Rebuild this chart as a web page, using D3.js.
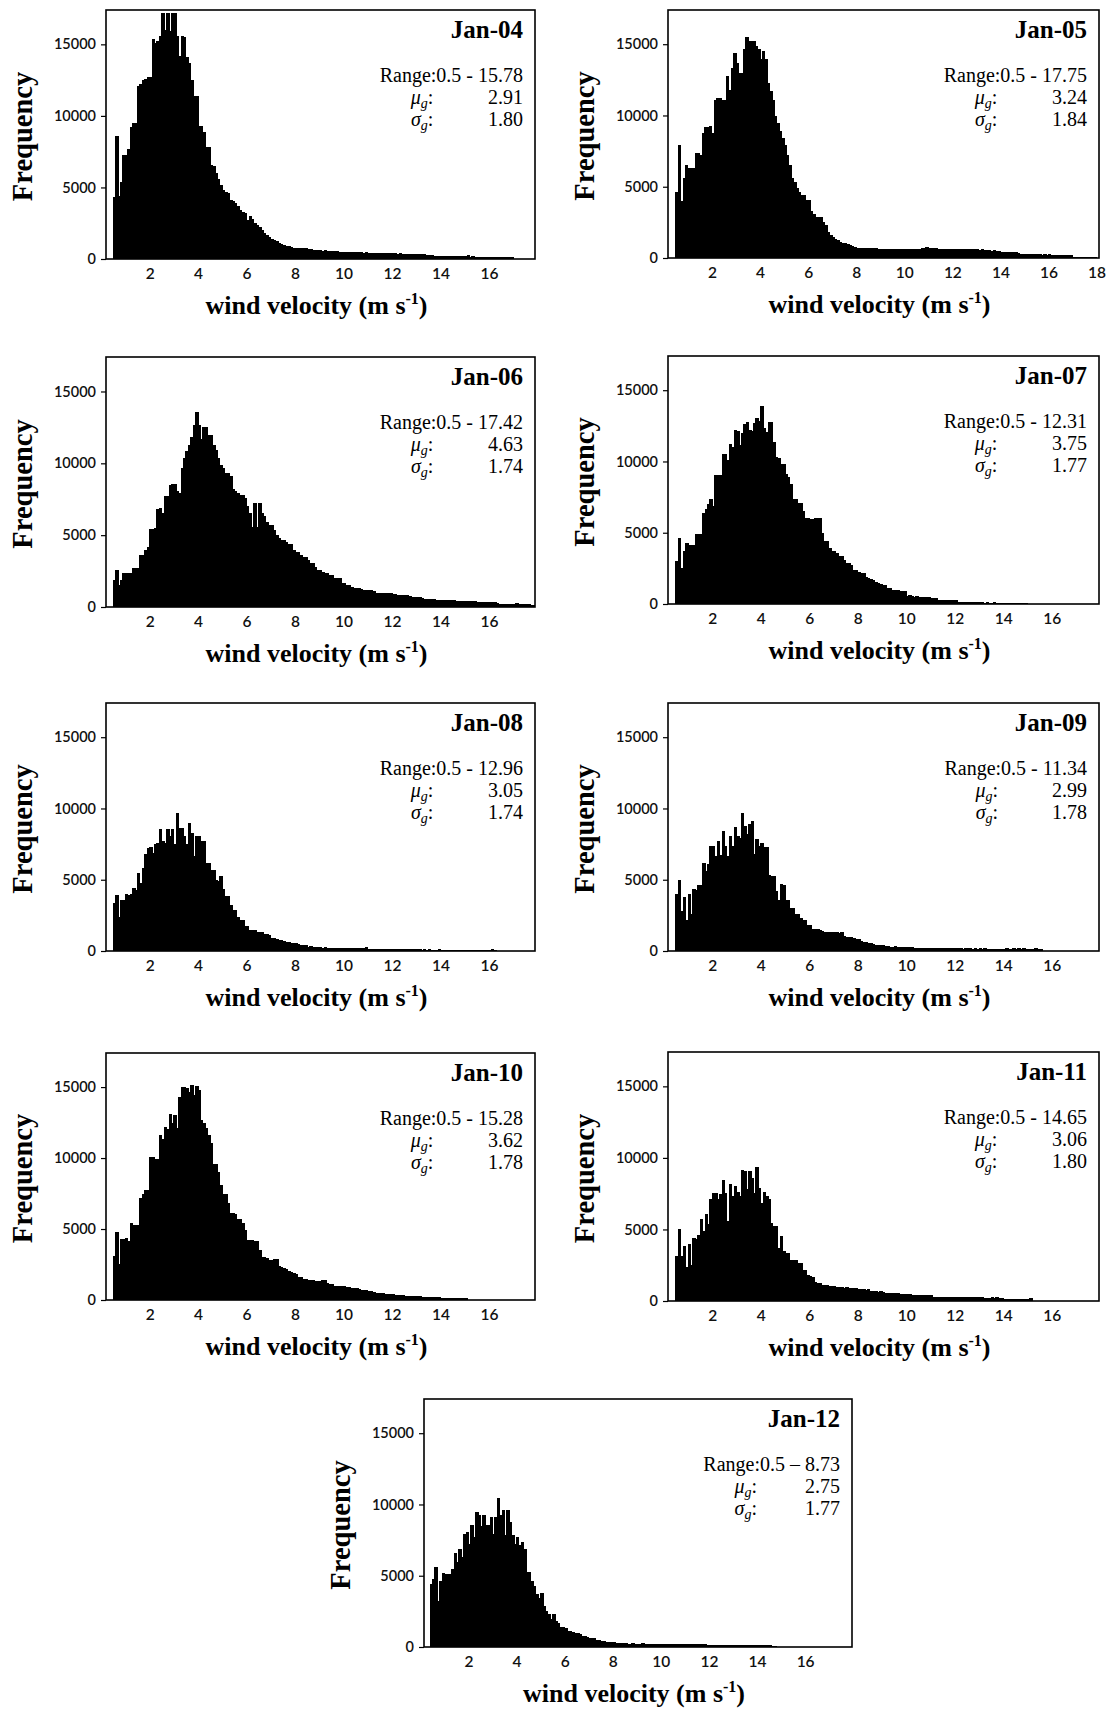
<!DOCTYPE html>
<html><head><meta charset="utf-8">
<script src="https://cdn.jsdelivr.net/npm/d3@7"></script>
<style>body{margin:0;background:#fff;} svg{display:block;}</style>
</head><body>
<svg id="chart" width="1113" height="1711"></svg>
<script>
const BIN_WIDTH = 0.1;
const panelNames = ["Jan-04","Jan-05","Jan-06","Jan-07","Jan-08","Jan-09","Jan-10","Jan-11","Jan-12"];
const rangeLabels = ["0.5 - 15.78","0.5 - 17.75","0.5 - 17.42","0.5 - 12.31","0.5 - 12.96","0.5 - 11.34","0.5 - 15.28","0.5 - 14.65","0.5 \u2013 8.73"];
const muValues = ["2.91","3.24","4.63","3.75","3.05","2.99","3.62","3.06","2.75"];
const sigmaValues = ["1.80","1.84","1.74","1.77","1.74","1.78","1.78","1.80","1.77"];
const binStarts = [0.5,0.5,0.5,0.5,0.5,0.5,0.5,0.5,0.4];
const yTicks = [0,5000,10000,15000];
const xTicks = [2,4,6,8,10,12,14,16];
const xTicksJan05 = [2,4,6,8,10,12,14,16,18];

const jan04 = [4300,8600,4400,5400,7300,7300,7700,9200,9500,9500,
12100,12200,12500,12600,12700,12700,15400,15100,15200,15600,
17200,16000,17200,15900,17200,17200,15600,14200,15600,15500,
14100,13700,12500,11400,11400,9300,9300,8900,7800,7800,
6600,6500,6000,5600,5200,4850,4700,4600,4150,4050,
3900,3700,3450,3300,3200,2750,3000,2800,2550,2350,
2250,2050,1850,1700,1550,1400,1300,1250,1100,1050,
950,900,880,870,800,780,770,760,740,760,
700,700,640,620,600,610,590,600,560,540,
550,530,540,510,500,490,480,490,470,480,
470,460,470,450,460,440,450,430,420,430,
420,410,420,420,410,400,420,380,410,380,
370,360,380,350,360,340,350,330,320,300,
290,260,240,230,240,220,230,220,210,220,
200,210,200,190,200,180,250,170,180,170,
160,170,150,160,140,150,140,130,140,130,
140,120,130,120,110];
const jan05 = [4600,7900,4000,5600,6500,6300,6300,6300,7400,7400,
7250,8800,9200,9200,9250,8800,11100,11250,11250,11100,
11100,12800,11800,13350,14400,13700,13000,13000,14650,15500,
15250,15250,15200,14900,14650,13950,14550,13950,12300,11700,
11100,9950,9500,8900,8400,7950,7250,6550,5600,5350,
4900,4650,4400,4400,4100,4050,3300,3100,2900,2900,
2900,2550,2350,1850,1600,1450,1300,1250,1130,1080,
1050,980,940,820,780,720,700,710,690,700,
680,700,690,670,660,650,660,640,650,660,
640,650,630,650,640,650,630,650,640,650,
660,650,680,730,740,720,730,710,690,660,
650,640,650,660,640,650,640,660,650,630,
640,620,610,620,600,610,590,600,560,540,
550,520,540,510,500,450,430,420,410,420,
400,400,380,270,260,270,260,250,260,250,
260,250,240,250,240,250,240,230,240,230,
240,230,220,230,220,70,60,70,60,60,
50,60,50,40,40,30];
const jan06 = [1870,2600,1500,1870,2400,2400,2400,2400,2730,2730,
2730,3600,3600,3950,4200,5450,5450,5500,6800,6900,
6550,7700,7750,8500,8550,8550,8050,7950,9700,10400,
10850,11300,11800,12700,13550,12700,11700,12550,12550,12000,
12000,11300,10950,10400,9850,9700,9350,9350,9100,8200,
8050,7950,7800,7800,7600,7000,6550,5600,7250,5600,
7250,6550,6300,5950,5700,5700,5350,5000,4800,4650,
4650,4550,4400,4400,3950,3850,3850,3600,3500,3500,
3300,3050,3050,2800,2570,2570,2450,2350,2350,2200,
2200,2000,2050,2000,1650,1650,1500,1500,1400,1350,
1300,1300,1250,1200,1200,1150,1150,1100,1000,980,
990,970,980,960,950,930,920,850,830,840,
810,820,790,720,710,700,680,600,590,580,
570,580,560,520,510,520,500,510,490,500,
470,440,420,430,410,420,400,410,390,400,
380,360,350,340,350,330,340,320,300,240,
230,240,220,230,220,240,300,220,210,200,
190,180,170,160];
const jan07 = [3040,4630,2500,3700,4300,4150,4150,4150,4900,4900,
4900,6400,6650,7000,7350,6900,9050,9050,9050,10550,
10550,10100,11200,11050,12200,12150,11150,12000,12600,12800,
12200,12150,12700,13050,12850,13900,12350,12100,12750,12750,
11400,10300,10250,9850,9850,9150,8900,8400,7400,7400,
7100,7100,6500,6000,6000,5950,5950,6000,6000,6000,
5000,4400,4400,3900,3700,3700,3550,3350,3350,3100,
2900,2900,2750,2400,2400,2250,2150,2150,1900,1800,
1750,1700,1550,1450,1420,1300,1300,1140,1140,1000,
1000,980,900,900,880,590,600,560,520,530,
520,510,520,500,490,430,440,420,280,290,
280,270,280,270,260,270,130,120,130,120,
120,110,120,110,120,110,110,100,110,100,
100,110,100,100,90,100,90,100,90,90,
90,80,90,80,80];
const jan08 = [3350,3900,2400,3600,3600,4000,3900,4000,4400,4300,
5500,4800,5850,6800,7250,7300,6900,7500,7600,8550,
7700,7600,8550,8050,8550,7500,9700,8650,8650,8050,
7500,9000,8300,6700,8050,8100,7700,7700,6200,6200,
5700,5700,5000,4900,5250,4350,3850,3850,3250,2900,
2900,2400,2200,2200,1750,1750,1500,1500,1450,1350,
1350,1300,1180,1180,1100,900,900,850,780,780,
700,610,610,580,540,540,500,420,420,400,
310,320,310,300,310,300,240,250,240,230,
240,230,240,230,240,230,240,230,220,230,
230,220,230,220,280,160,170,160,150,160,
150,160,150,140,150,120,130,120,120,110,
120,110,120,110,120,110,110,100,110,100,
110,100,100,100,110,60,100,100,90,100,
90,100,90,90,100,90,90,80,90,80,
90,80,80,70,80,70,140,60];
const jan09 = [4000,5000,2800,3800,2200,4000,2600,4350,4300,4650,
4600,6200,5600,6100,7350,7350,6650,7700,6750,8400,
7350,6650,8050,7350,8700,8050,7950,9650,8800,8200,
8900,9100,6800,7850,7350,7550,7300,7300,5350,5250,
5250,4200,3600,4700,4650,3550,3550,3000,3000,2600,
2600,2300,2200,2200,1850,1850,1550,1550,1550,1450,
1400,1350,1350,1300,1300,1300,1300,1250,1300,1050,
1000,960,960,900,820,820,700,660,640,580,
540,500,430,420,410,420,380,320,310,300,
320,280,260,270,250,260,250,270,190,200,
190,180,190,200,190,180,190,200,190,180,
190,180,190,180,190,180,190,180,170,180,
190,180,170,180,170,180,170,180,170,160,
170,160,170,140,150,140,200,140,150,200,
140,210,140,190,130,140,130,140,200,140,
120];
const jan10 = [3100,4800,2550,4300,4300,4350,4150,5450,5300,5250,
5250,7200,7450,7750,7750,10050,10050,9950,9950,11650,
11350,12200,12050,13100,12500,13000,12100,14300,15000,15000,
14900,14650,15150,14450,15100,14800,12650,12500,12150,11600,
11050,9550,9550,9000,8100,7450,7450,6850,6100,6100,
6050,5700,5700,5450,4900,4250,4250,4200,4150,4150,
3500,3050,3050,2950,2850,2850,2900,2900,2400,2300,
2250,2200,2050,2000,1900,1850,1650,1650,1500,1450,
1400,1400,1380,1350,1350,1350,1400,1400,1200,1150,
1150,1000,1000,1000,980,1000,900,900,880,830,
830,800,700,700,680,600,600,590,470,470,
460,470,450,400,400,390,350,350,340,350,
280,290,280,270,280,270,260,190,200,190,
180,190,180,190,180,140,150,140,140,130,
140,130,140,130,130,120];
const jan11 = [3150,5050,3150,3850,2350,3950,2550,4400,4300,4600,
5700,4900,6100,5350,7100,7550,7550,7100,7500,8450,
7550,5600,8150,7350,8050,7650,7350,9150,9050,7800,
9050,8600,7550,9350,7900,6850,7600,7350,7150,5450,
5250,5250,3700,4550,3500,3350,3350,2850,2850,2850,
2650,2650,2200,2200,1850,1750,1650,1300,1250,1250,
1100,1100,1100,1050,1050,1050,1000,1000,980,930,
950,930,920,930,900,810,820,810,800,810,
680,670,680,660,670,650,590,580,590,570,
580,560,470,460,470,460,470,450,400,410,
400,390,400,410,400,390,300,310,300,290,
300,310,290,280,290,280,270,280,290,280,
270,280,270,280,270,260,270,190,200,190,
260,180,260,190,180,160,170,160,150,160,
150,160,150,140,150,140,220];
const jan12 = [4450,4800,5600,3250,4650,5200,5150,5100,5100,5500,6600,
5950,6900,6300,7950,8100,7250,8550,7700,9450,9250,
8500,9250,8550,8550,9150,7950,9150,10450,9250,9600,
7850,9600,8800,7850,7250,7700,7150,7350,6900,5250,
5250,4650,4300,3700,3450,3800,2900,2550,2350,1950,
2300,1800,1700,1400,1400,1350,1100,1100,1050,950,
950,900,750,750,700,640,640,600,470,470,
450,400,350,350,340,350,280,280,270,280,
250,240,240,250,240,230,240,250,240,230,
240,230,240,200,190,200,190,180,190,200,
190,180,190,200,190,180,190,180,190,180,
190,180,190,180,150,140,150,140,150,140,
130,140,130,140,130,140,130,140,130,120,
130,120,130,120,130,120,120,110,120,110,
110,100,100];
const seriesCounts = [jan04,jan05,jan06,jan07,jan08,jan09,jan10,jan11,jan12];

// layout (pixels)
const frames = [
  {x:106,y:10,w:429,h:249,xd:[0.2,17.9]},
  {x:668,y:10,w:431,h:248,xd:[0.17,18.1]},
  {x:106,y:357,w:429,h:250,xd:[0.2,17.9]},
  {x:668,y:356,w:431,h:248,xd:[0.17,17.95]},
  {x:106,y:703,w:429,h:248,xd:[0.2,17.9]},
  {x:668,y:703,w:431,h:248,xd:[0.17,17.95]},
  {x:106,y:1053,w:429,h:247,xd:[0.2,17.9]},
  {x:668,y:1052,w:431,h:249,xd:[0.17,17.95]},
  {x:424,y:1399,w:428,h:248,xd:[0.15,17.95]}
];
const Y_MAX = 17400;
const SERIF = "'Liberation Serif','Times New Roman',serif";
const SANS = "Lato,'Noto Sans',sans-serif";

const svg = d3.select("#chart");
svg.append("rect").attr("width",1113).attr("height",1711).attr("fill","#fff");

frames.forEach((f, k) => {
  const g = svg.append("g").attr("transform", `translate(${f.x},${f.y})`);
  const xs = d3.scaleLinear().domain(f.xd).range([0, f.w]);
  const ys = d3.scaleLinear().domain([0, Y_MAX]).range([f.h, 0]);
  const clipId = "clip" + k;
  g.append("clipPath").attr("id", clipId).append("rect").attr("width", f.w).attr("height", f.h);

  const bins = seriesCounts[k].map((v, i) => ({x0: binStarts[k] + i * BIN_WIDTH, v}));
  g.append("g").attr("clip-path", `url(#${clipId})`)
    .attr("shape-rendering","crispEdges")
    .selectAll("rect").data(bins).join("rect")
    .attr("x", d => Math.floor(xs(d.x0)))
    .attr("width", d => Math.ceil(xs(d.x0 + BIN_WIDTH)) - Math.floor(xs(d.x0)))
    .attr("y", d => Math.round(ys(d.v)))
    .attr("height", d => f.h - Math.round(ys(d.v)))
    .attr("fill", "#000");

  // axes
  const yAxis = d3.axisLeft(ys).tickValues(yTicks).tickSize(5).tickPadding(5).tickFormat(d3.format("d"));
  const ya = g.append("g").call(yAxis);
  ya.select(".domain").remove();
  ya.selectAll("line").attr("stroke","#000").attr("stroke-width",1.2);
  ya.selectAll("text").attr("font-family", SANS).attr("font-size", 14.5).attr("font-weight", 600).attr("fill","#111");

  const xAxis = d3.axisBottom(xs).tickValues(k === 1 ? xTicksJan05 : xTicks).tickSize(0).tickPadding(9);
  const xa = g.append("g").attr("transform", `translate(0,${f.h})`).call(xAxis);
  xa.select(".domain").remove();
  xa.selectAll("text").attr("font-family", SANS).attr("font-size", 15.5).attr("font-weight", 600).attr("fill","#111");

  // frame
  g.append("rect").attr("width", f.w).attr("height", f.h)
    .attr("fill","none").attr("stroke","#000").attr("stroke-width",1.6);

  // y label
  g.append("text")
    .attr("transform", `translate(-74,${f.h/2 + 2}) rotate(-90)`)
    .attr("text-anchor","middle")
    .attr("font-family", SERIF).attr("font-weight","bold").attr("font-size",28.5)
    .text("Frequency");

  // x label
  const xl = g.append("text")
    .attr("x", f.w/2 - 4).attr("y", f.h + 55)
    .attr("text-anchor","middle")
    .attr("font-family", SERIF).attr("font-weight","bold").attr("font-size",26);
  xl.append("tspan").text("wind velocity  (m s");
  xl.append("tspan").attr("font-size",16).attr("dy",-10).text("-1");
  xl.append("tspan").attr("dy",10).text(")");

  // title
  const right = f.w - 12;
  g.append("text").attr("x", right).attr("y", 28)
    .attr("text-anchor","end")
    .attr("font-family", SERIF).attr("font-weight","bold").attr("font-size",25)
    .text(panelNames[k]);

  // stats
  const rt = g.append("text").attr("x", right).attr("y", 72)
    .attr("text-anchor","end").attr("font-family", SERIF).attr("font-size",20);
  rt.append("tspan").text("Range:");
  const valSpan = rt.append("tspan").text(rangeLabels[k]);
  const valLen = valSpan.node().getComputedTextLength();
  const labelEnd = right - valLen - 3;

  [[muValues[k], "\u03bc", 94], [sigmaValues[k], "\u03c3", 116]].forEach(([val, sym, yy]) => {
    const lt = g.append("text").attr("x", labelEnd).attr("y", yy)
      .attr("text-anchor","end").attr("font-family", SERIF).attr("font-size",20);
    lt.append("tspan").attr("font-style","italic").text(sym);
    lt.append("tspan").attr("font-style","italic").attr("font-size",14).attr("dy",4).text("g");
    lt.append("tspan").attr("dy",-4).text(":");
    g.append("text").attr("x", right).attr("y", yy)
      .attr("text-anchor","end").attr("font-family", SERIF).attr("font-size",20)
      .text(val);
  });
});
</script>
</body></html>
